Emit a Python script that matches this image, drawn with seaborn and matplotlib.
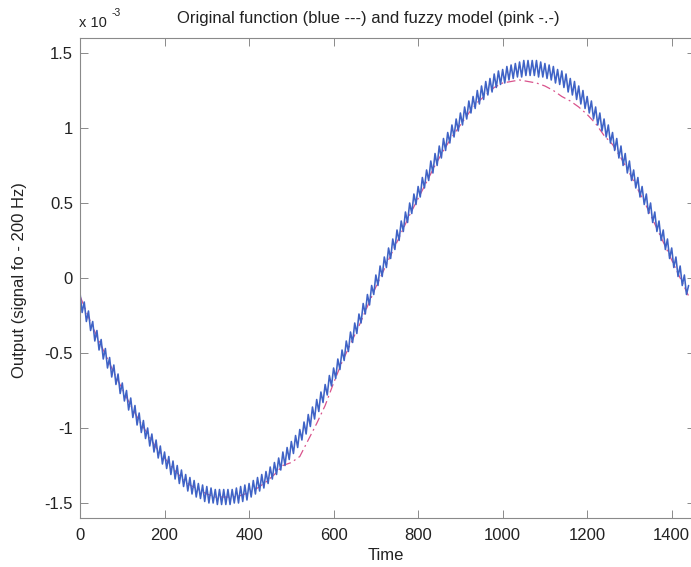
import numpy as np
import pandas as pd
import matplotlib
matplotlib.use("Agg")
import matplotlib.pyplot as plt
import seaborn as sns

# output values are in units of 1e-3 (the axis carries the "x 10^-3" factor)
t_peak = np.arange(0, 1441, 10)
blue_peak = [-0.10, -0.16, -0.22, -0.29, -0.35, -0.41, -0.47, -0.53, -0.58, -0.64,
             -0.70, -0.75, -0.80, -0.85, -0.90, -0.95, -1.00, -1.04, -1.08, -1.12,
             -1.16, -1.19, -1.22, -1.25, -1.28, -1.31, -1.33, -1.35, -1.37, -1.38,
             -1.39, -1.40, -1.41, -1.41, -1.41, -1.41, -1.41, -1.40, -1.39, -1.38,
             -1.37, -1.35, -1.33, -1.31, -1.29, -1.26, -1.23, -1.20, -1.16, -1.13,
             -1.09, -1.05, -1.01, -0.96, -0.91, -0.86, -0.81, -0.76, -0.71, -0.65,
             -0.60, -0.54, -0.48, -0.42, -0.36, -0.30, -0.24, -0.17, -0.11, -0.05,
             0.02, 0.08, 0.14, 0.20, 0.26, 0.32, 0.38, 0.44, 0.50, 0.56,
             0.61, 0.67, 0.72, 0.78, 0.83, 0.88, 0.93, 0.97, 1.02, 1.06,
             1.10, 1.14, 1.18, 1.21, 1.25, 1.28, 1.31, 1.33, 1.36, 1.38,
             1.39, 1.41, 1.42, 1.43, 1.44, 1.45, 1.45, 1.45, 1.45, 1.44,
             1.43, 1.42, 1.41, 1.39, 1.38, 1.36, 1.33, 1.31, 1.28, 1.25,
             1.21, 1.18, 1.14, 1.10, 1.06, 1.02, 0.97, 0.93, 0.88, 0.83,
             0.78, 0.72, 0.67, 0.61, 0.56, 0.50, 0.44, 0.38, 0.32, 0.26,
             0.20, 0.14, 0.08, 0.02, -0.05]

t_trough = np.arange(5, 1440, 10)
blue_trough = [-0.23, -0.29, -0.35, -0.42, -0.48, -0.54, -0.60, -0.66, -0.71, -0.77,
               -0.82, -0.88, -0.93, -0.98, -1.03, -1.07, -1.12, -1.16, -1.20, -1.24,
               -1.27, -1.31, -1.34, -1.37, -1.39, -1.42, -1.44, -1.46, -1.47, -1.49,
               -1.50, -1.50, -1.51, -1.51, -1.51, -1.51, -1.50, -1.50, -1.49, -1.48,
               -1.46, -1.44, -1.42, -1.40, -1.37, -1.34, -1.31, -1.28, -1.25, -1.21,
               -1.17, -1.13, -1.08, -1.04, -0.99, -0.94, -0.89, -0.83, -0.78, -0.72,
               -0.67, -0.61, -0.55, -0.49, -0.43, -0.37, -0.30, -0.24, -0.18, -0.11,
               -0.05, 0.01, 0.07, 0.13, 0.19, 0.25, 0.31, 0.37, 0.43, 0.49,
               0.54, 0.60, 0.65, 0.70, 0.75, 0.80, 0.85, 0.90, 0.94, 0.98,
               1.02, 1.06, 1.10, 1.13, 1.16, 1.19, 1.22, 1.24, 1.27, 1.29,
               1.30, 1.32, 1.33, 1.34, 1.34, 1.35, 1.35, 1.35, 1.34, 1.34,
               1.33, 1.32, 1.30, 1.29, 1.27, 1.24, 1.22, 1.19, 1.16, 1.13,
               1.10, 1.06, 1.02, 0.98, 0.94, 0.90, 0.85, 0.80, 0.75, 0.70,
               0.65, 0.60, 0.54, 0.49, 0.43, 0.37, 0.31, 0.25, 0.19, 0.13,
               0.07, 0.01, -0.05, -0.11]

t_model = np.arange(0, 1441, 20)
pink_model = [-0.12, -0.26, -0.39, -0.51, -0.63, -0.74, -0.85, -0.95, -1.04, -1.13,
              -1.20, -1.27, -1.33, -1.38, -1.41, -1.44, -1.46, -1.46, -1.46, -1.45,
              -1.43, -1.40, -1.36, -1.31, -1.25, -1.23, -1.19, -1.08, -0.97, -0.85,
              -0.70, -0.56, -0.44, -0.32, -0.19, -0.06, 0.06, 0.18, 0.30, 0.42,
              0.53, 0.64, 0.75, 0.85, 0.94, 1.02, 1.10, 1.17, 1.22, 1.27,
              1.30, 1.31, 1.32, 1.31, 1.30, 1.28, 1.25, 1.21, 1.18, 1.14,
              1.09, 1.03, 0.95, 0.89, 0.80, 0.70, 0.59, 0.48, 0.36, 0.24,
              0.12, 0.00, -0.12]

xticks = [0, 200, 400, 600, 800, 1000, 1200, 1400]
yticks = [-1.5, -1, -0.5, 0, 0.5, 1, 1.5]
ytick_labels = ['-1.5', '-1', '-0.5', '0', '0.5', '1', '1.5']

orig = pd.DataFrame({'time': np.concatenate([t_peak, t_trough]),
                     'out': np.concatenate([blue_peak, blue_trough])}).sort_values('time')
fuzzy = pd.DataFrame({'time': t_model, 'out': pink_model})

sns.set_theme(style="ticks")
plt.rcParams['font.family'] = ['Liberation Sans', 'DejaVu Sans']
plt.rcParams['axes.unicode_minus'] = False

fig = plt.figure(figsize=(6.91, 5.67), dpi=100)
# right edge of the box sits just past the picture, as in the cropped original
ax = fig.add_axes([0.1158, 0.0864, 0.8899, 0.8466])

sns.lineplot(data=fuzzy, x='time', y='out', color='#d9538c', linewidth=0.9,
             estimator=None, sort=False, ax=ax)
ax.lines[-1].set_dashes([7, 3, 1.5, 3])
sns.lineplot(data=orig, x='time', y='out', color='#3f63c6', linewidth=1.15,
             estimator=None, sort=False, ax=ax)

ax.set_xlim(0, 1455)
ax.set_ylim(-1.6, 1.6)
ax.set_xticks(xticks)
ax.set_xticklabels([str(x) for x in xticks])
ax.set_yticks(yticks)
ax.set_yticklabels(ytick_labels)
ax.set_xlabel('')
ax.set_ylabel('')

for s in ax.spines.values():
    s.set_visible(True)
    s.set_color('#8a8a8a')
    s.set_linewidth(0.8)
ax.spines['right'].set_visible(False)
ax.tick_params(direction='in', top=True, right=True, length=5.5, width=0.7,
               color='#8a8a8a', labelcolor='#222222', labelsize=12)
ax.tick_params(axis='y', pad=5)
ax.tick_params(axis='x', pad=7)

fig.text(368/691, 1-18/567, 'Original function (blue ---) and fuzzy model (pink -.-)',
         ha='center', va='center', fontsize=12, color='#222222')
fig.text(386/691, 1-556/567, 'Time', ha='center', va='center', fontsize=12, color='#222222')
fig.text(20/691, 1-280/567, 'Output (signal fo - 200 Hz)', rotation=90,
         ha='center', va='center', fontsize=12, color='#222222')
fig.text(79/691, 1-23/567, 'x 10', ha='left', va='center', fontsize=10.5, color='#222222')
fig.text(112/691, 1-13/567, '-3', ha='left', va='center', fontsize=7.5, color='#222222')

fig.savefig('out.png', dpi=100)
